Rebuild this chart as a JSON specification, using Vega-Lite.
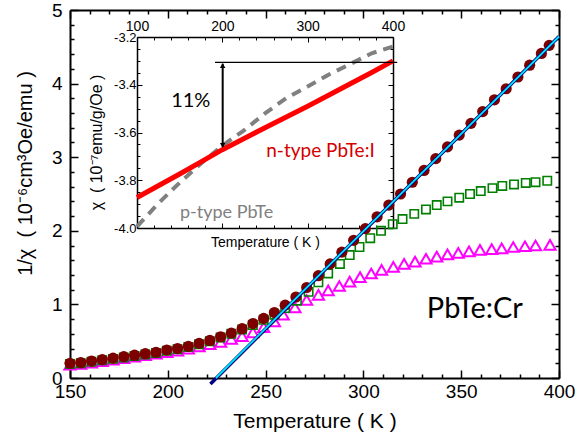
{
  "$schema": "https://vega.github.io/schema/vega-lite/v6.json",
  "width": 489,
  "height": 368,
  "autosize": "none",
  "padding": {"left": 70, "top": 10, "right": 21, "bottom": 60},
  "background": "white",
  "config": {
    "view": {"stroke": null},
    "axis": {"grid": false, "labelFont": "Liberation Sans", "titleFont": "Liberation Sans", "labelColor": "black", "titleColor": "black", "domainColor": "black", "tickColor": "black", "titleFontWeight": "normal", "labelOverlap": false, "labelFlush": false}
  },
  "datasets": {
    "circles": [
      {"T": 150, "v": 0.20}, {"T": 155.5, "v": 0.21}, {"T": 161, "v": 0.23}, {"T": 166.5, "v": 0.25}, {"T": 172, "v": 0.27},
      {"T": 177.5, "v": 0.29}, {"T": 183, "v": 0.31}, {"T": 188.5, "v": 0.33}, {"T": 194, "v": 0.35}, {"T": 199.5, "v": 0.38},
      {"T": 205, "v": 0.40}, {"T": 210.5, "v": 0.43}, {"T": 216, "v": 0.47}, {"T": 221.5, "v": 0.51}, {"T": 227, "v": 0.56},
      {"T": 232.5, "v": 0.61}, {"T": 238, "v": 0.67}, {"T": 243.5, "v": 0.74}, {"T": 249, "v": 0.81}, {"T": 254.5, "v": 0.89},
      {"T": 260, "v": 0.99}, {"T": 265.5, "v": 1.10}, {"T": 271, "v": 1.23}, {"T": 277, "v": 1.39}, {"T": 283, "v": 1.55},
      {"T": 289, "v": 1.71}, {"T": 295, "v": 1.87}, {"T": 301, "v": 2.03}, {"T": 307, "v": 2.19}, {"T": 313, "v": 2.35},
      {"T": 319, "v": 2.50}, {"T": 325, "v": 2.66}, {"T": 331, "v": 2.82}, {"T": 337, "v": 2.98}, {"T": 343, "v": 3.14},
      {"T": 349, "v": 3.30}, {"T": 355, "v": 3.46}, {"T": 361, "v": 3.62}, {"T": 367, "v": 3.78}, {"T": 373, "v": 3.93},
      {"T": 379, "v": 4.09}, {"T": 385, "v": 4.25}, {"T": 391, "v": 4.41}, {"T": 395, "v": 4.52}
    ],
    "squares": [
      {"T": 150, "v": 0.19}, {"T": 155.5, "v": 0.20}, {"T": 161, "v": 0.22}, {"T": 166.5, "v": 0.24}, {"T": 172, "v": 0.26},
      {"T": 177.5, "v": 0.28}, {"T": 183, "v": 0.30}, {"T": 188.5, "v": 0.32}, {"T": 194, "v": 0.34}, {"T": 199.5, "v": 0.37},
      {"T": 205, "v": 0.39}, {"T": 210.5, "v": 0.42}, {"T": 216, "v": 0.46}, {"T": 221.5, "v": 0.50}, {"T": 227, "v": 0.55},
      {"T": 232.5, "v": 0.60}, {"T": 238, "v": 0.66}, {"T": 243.5, "v": 0.72}, {"T": 249, "v": 0.79}, {"T": 254.5, "v": 0.86},
      {"T": 260, "v": 0.95}, {"T": 266, "v": 1.05}, {"T": 272, "v": 1.17}, {"T": 277, "v": 1.30}, {"T": 282, "v": 1.42},
      {"T": 288, "v": 1.55}, {"T": 293, "v": 1.67}, {"T": 298, "v": 1.78}, {"T": 303.5, "v": 1.90}, {"T": 309, "v": 2.00},
      {"T": 315, "v": 2.09}, {"T": 320, "v": 2.16}, {"T": 326, "v": 2.23}, {"T": 332, "v": 2.29}, {"T": 337.5, "v": 2.35},
      {"T": 343, "v": 2.40}, {"T": 349, "v": 2.45}, {"T": 354.5, "v": 2.50}, {"T": 360, "v": 2.54}, {"T": 366, "v": 2.58},
      {"T": 371, "v": 2.61}, {"T": 377, "v": 2.63}, {"T": 383, "v": 2.65}, {"T": 388, "v": 2.66}, {"T": 394, "v": 2.68}
    ],
    "triangles": [
      {"T": 150, "v": 0.18}, {"T": 155.5, "v": 0.19}, {"T": 161, "v": 0.21}, {"T": 166.5, "v": 0.23}, {"T": 172, "v": 0.25},
      {"T": 177.5, "v": 0.27}, {"T": 183, "v": 0.29}, {"T": 188.5, "v": 0.31}, {"T": 194, "v": 0.33}, {"T": 199.5, "v": 0.35},
      {"T": 205, "v": 0.37}, {"T": 210.5, "v": 0.40}, {"T": 216, "v": 0.43}, {"T": 221.5, "v": 0.46}, {"T": 227, "v": 0.49},
      {"T": 232.5, "v": 0.53}, {"T": 238, "v": 0.57}, {"T": 243.5, "v": 0.62}, {"T": 249, "v": 0.69}, {"T": 254.5, "v": 0.77},
      {"T": 259, "v": 0.86}, {"T": 265, "v": 0.96}, {"T": 271, "v": 1.06}, {"T": 277, "v": 1.13}, {"T": 282, "v": 1.19},
      {"T": 287.7, "v": 1.25}, {"T": 293, "v": 1.31}, {"T": 298.3, "v": 1.37}, {"T": 304, "v": 1.42}, {"T": 309.3, "v": 1.47},
      {"T": 315.3, "v": 1.51}, {"T": 320.8, "v": 1.55}, {"T": 326.4, "v": 1.58}, {"T": 332, "v": 1.62}, {"T": 337.5, "v": 1.65},
      {"T": 343, "v": 1.68}, {"T": 348.5, "v": 1.70}, {"T": 354, "v": 1.72}, {"T": 359.6, "v": 1.74}, {"T": 365.6, "v": 1.75},
      {"T": 370.7, "v": 1.76}, {"T": 376.6, "v": 1.78}, {"T": 382.6, "v": 1.79}, {"T": 388, "v": 1.80}, {"T": 395.4, "v": 1.81}
    ],
    "fitNavy": [{"T": 221.8, "v": -0.08}, {"T": 400, "v": 4.64}],
    "fitCyan": [{"T": 224.6, "v": 0}, {"T": 400, "v": 4.64}],
    "mainText": [{"T": 357, "v": 0.94, "label": "PbTe:Cr"}],
    "redLine": [
      {"T": 100, "v": -3.872}, {"T": 125, "v": -3.823}, {"T": 150, "v": -3.774}, {"T": 175, "v": -3.723}, {"T": 200, "v": -3.672},
      {"T": 225, "v": -3.626}, {"T": 250, "v": -3.580}, {"T": 275, "v": -3.535}, {"T": 300, "v": -3.490}, {"T": 325, "v": -3.443},
      {"T": 350, "v": -3.396}, {"T": 375, "v": -3.349}, {"T": 400, "v": -3.300}
    ],
    "grayLine": [
      {"T": 100, "v": -3.994}, {"T": 125, "v": -3.897}, {"T": 150, "v": -3.810}, {"T": 175, "v": -3.730}, {"T": 200, "v": -3.655},
      {"T": 225, "v": -3.592}, {"T": 250, "v": -3.520}, {"T": 275, "v": -3.456}, {"T": 300, "v": -3.407}, {"T": 325, "v": -3.357},
      {"T": 350, "v": -3.313}, {"T": 375, "v": -3.268}, {"T": 400, "v": -3.240}
    ],
    "hline": [{"T1": 191.4, "T2": 405, "v": -3.306}],
    "arrowShaft": [{"T": 200.4, "v1": -3.312, "v2": -3.660}],
    "arrowUp": [{"T": 200.4, "v": -3.320}],
    "arrowDown": [{"T": 200.4, "v": -3.654}],
    "insetText": [
      {"T": 163, "v": -3.467, "label": "11%", "kind": "pct"},
      {"T": 315, "v": -3.676, "label": "n-type PbTe:I", "kind": "n"},
      {"T": 205, "v": -3.937, "label": "p-type PbTe", "kind": "p"}
    ]
  },
  "layer": [
    {
      "layer": [
        {
          "data": {"name": "triangles"},
          "mark": {"type": "point", "shape": "triangle-up", "filled": false, "color": "#ff00ff", "strokeWidth": 2, "size": 125, "opacity": 1},
          "encoding": {
            "x": {"field": "T", "type": "quantitative", "scale": {"domain": [150, 400], "nice": false, "zero": false},
              "axis": {"orient": "bottom", "values": [150,160,170,180,190,200,210,220,230,240,250,260,270,280,290,300,310,320,330,340,350,360,370,380,390,400],
                "labelExpr": "datum.value % 50 === 0 ? datum.label : ''",
                "tickSize": {"condition": {"test": "datum.value % 50 === 0", "value": -8}, "value": -4},
                "tickWidth": 1.5, "domainWidth": 2, "labelFontSize": 19, "labelPadding": 12,
                "title": "Temperature  ( K )", "titleFontSize": 21, "titlePadding": 5}},
            "y": {"field": "v", "type": "quantitative", "scale": {"domain": [0, 5], "nice": false, "zero": false},
              "axis": {"orient": "left", "format": ".0f", "values": [0,0.2,0.4,0.6,0.8,1,1.2,1.4,1.6,1.8,2,2.2,2.4,2.6,2.8,3,3.2,3.4,3.6,3.8,4,4.2,4.4,4.6,4.8,5],
                "labelExpr": "datum.value % 1 === 0 ? datum.label : ''",
                "tickSize": {"condition": {"test": "datum.value % 1 === 0", "value": -8}, "value": -4},
                "tickWidth": 1.5, "domainWidth": 2, "labelFontSize": 19, "labelPadding": 16,
                "title": "1/χ\u00a0\u00a0( 10⁻⁶cm³Oe/emu )", "titleFontSize": 20, "titleX": -45, "titleY": 163, "titleAlign": "center", "titleBaseline": "middle", "titleAngle": -90}}
          }
        },
        {
          "data": {"name": "squares"},
          "mark": {"type": "point", "shape": "square", "filled": false, "color": "#008000", "strokeWidth": 1.6, "size": 70, "opacity": 1},
          "encoding": {
            "x": {"field": "T", "type": "quantitative", "axis": null},
            "y": {"field": "v", "type": "quantitative", "axis": null}
          }
        },
        {
          "data": {"name": "circles"},
          "mark": {"type": "point", "shape": "circle", "filled": true, "color": "#7d0000", "size": 125, "opacity": 1},
          "encoding": {
            "x": {"field": "T", "type": "quantitative", "axis": null},
            "y": {"field": "v", "type": "quantitative", "axis": null}
          }
        },
        {
          "data": {"name": "fitNavy"},
          "mark": {"type": "line", "color": "#000080", "strokeWidth": 3.5, "clip": false},
          "encoding": {
            "x": {"field": "T", "type": "quantitative", "axis": null},
            "y": {"field": "v", "type": "quantitative", "axis": null}
          }
        },
        {
          "data": {"name": "fitCyan"},
          "mark": {"type": "line", "color": "#00e8ff", "strokeWidth": 1.8, "clip": false},
          "encoding": {
            "x": {"field": "T", "type": "quantitative",
              "axis": {"orient": "top", "values": [150,160,170,180,190,200,210,220,230,240,250,260,270,280,290,300,310,320,330,340,350,360,370,380,390,400],
                "labels": false, "title": null,
                "tickSize": {"condition": {"test": "datum.value % 50 === 0", "value": -8}, "value": -4},
                "tickWidth": 1.5, "domainWidth": 2}},
            "y": {"field": "v", "type": "quantitative",
              "axis": {"orient": "right", "values": [0,0.2,0.4,0.6,0.8,1,1.2,1.4,1.6,1.8,2,2.2,2.4,2.6,2.8,3,3.2,3.4,3.6,3.8,4,4.2,4.4,4.6,4.8,5],
                "labels": false, "title": null,
                "tickSize": {"condition": {"test": "datum.value % 1 === 0", "value": -8}, "value": -4},
                "tickWidth": 1.5, "domainWidth": 2}}
          }
        },
        {
          "data": {"name": "mainText"},
          "mark": {"type": "text", "font": "Lato", "fontSize": 29, "color": "black", "align": "center", "baseline": "middle"},
          "encoding": {
            "x": {"field": "T", "type": "quantitative", "axis": null},
            "y": {"field": "v", "type": "quantitative", "axis": null},
            "text": {"field": "label"}
          }
        }
      ],
      "resolve": {"axis": {"x": "independent", "y": "independent"}}
    },
    {
      "layer": [
        {
          "data": {"name": "grayLine"},
          "mark": {"type": "line", "color": "#808080", "strokeWidth": 4, "strokeDash": [10, 7], "clip": false},
          "encoding": {
            "x": {"field": "T", "type": "quantitative", "scale": {"domain": [100, 400], "range": [67, 323], "nice": false, "zero": false},
              "axis": {"orient": "bottom", "offset": -150, "values": [100,120,140,160,180,200,220,240,260,280,300,320,340,360,380,400],
                "labels": false, "title": "Temperature ( K )", "titleFontSize": 14, "titlePadding": 7,
                "tickSize": {"condition": {"test": "datum.value % 100 === 0", "value": -5}, "value": -3},
                "tickWidth": 1, "domainWidth": 1.5}},
            "y": {"field": "v", "type": "quantitative", "scale": {"domain": [-4.0, -3.2], "range": [218, 27], "nice": false, "zero": false},
              "axis": {"orient": "right", "offset": -166, "values": [-4,-3.95,-3.9,-3.85,-3.8,-3.75,-3.7,-3.65,-3.6,-3.55,-3.5,-3.45,-3.4,-3.35,-3.3,-3.25,-3.2],
                "labels": false, "title": null,
                "tickSize": {"condition": {"test": "abs(datum.value*5 - round(datum.value*5)) < 0.001", "value": -5}, "value": -3},
                "tickWidth": 1, "domainWidth": 1.5}}
          }
        },
        {
          "data": {"name": "redLine"},
          "mark": {"type": "line", "color": "#ff0000", "strokeWidth": 5, "clip": false},
          "encoding": {
            "x": {"field": "T", "type": "quantitative",
              "axis": {"orient": "top", "offset": -27, "values": [100,120,140,160,180,200,220,240,260,280,300,320,340,360,380,400],
                "labelExpr": "datum.value % 100 === 0 ? datum.label : ''", "labelFontSize": 14, "labelPadding": 9, "title": null,
                "tickSize": {"condition": {"test": "datum.value % 100 === 0", "value": -5}, "value": -3},
                "tickWidth": 1, "domainWidth": 1.5}},
            "y": {"field": "v", "type": "quantitative",
              "axis": {"orient": "left", "offset": -67, "values": [-4,-3.95,-3.9,-3.85,-3.8,-3.75,-3.7,-3.65,-3.6,-3.55,-3.5,-3.45,-3.4,-3.35,-3.3,-3.25,-3.2],
                "labelExpr": "abs(datum.value*5 - round(datum.value*5)) < 0.001 ? replace(format(datum.value, '.1f'), '\u2212', '-') : ''",
                "labelFontSize": 13, "labelPadding": 6,
                "title": "χ\u00a0\u00a0( 10⁻⁷emu/g/Oe )", "titleFontSize": 16, "titleX": -41, "titleY": 132, "titleAlign": "center", "titleBaseline": "middle", "titleAngle": -90,
                "tickSize": {"condition": {"test": "abs(datum.value*5 - round(datum.value*5)) < 0.001", "value": -5}, "value": -3},
                "tickWidth": 1, "domainWidth": 1.5}}
          }
        },
        {
          "data": {"name": "hline"},
          "mark": {"type": "rule", "color": "black", "strokeWidth": 1.2, "clip": false},
          "encoding": {
            "x": {"field": "T1", "type": "quantitative", "axis": null},
            "x2": {"field": "T2"},
            "y": {"field": "v", "type": "quantitative", "axis": null}
          }
        },
        {
          "data": {"name": "arrowShaft"},
          "mark": {"type": "rule", "color": "black", "strokeWidth": 2},
          "encoding": {
            "x": {"field": "T", "type": "quantitative", "axis": null},
            "y": {"field": "v1", "type": "quantitative", "axis": null},
            "y2": {"field": "v2"}
          }
        },
        {
          "data": {"name": "arrowUp"},
          "mark": {"type": "point", "shape": "triangle-up", "filled": true, "color": "black", "size": 30, "opacity": 1},
          "encoding": {
            "x": {"field": "T", "type": "quantitative", "axis": null},
            "y": {"field": "v", "type": "quantitative", "axis": null}
          }
        },
        {
          "data": {"name": "arrowDown"},
          "mark": {"type": "point", "shape": "triangle-down", "filled": true, "color": "black", "size": 30, "opacity": 1},
          "encoding": {
            "x": {"field": "T", "type": "quantitative", "axis": null},
            "y": {"field": "v", "type": "quantitative", "axis": null}
          }
        },
        {
          "data": {"name": "insetText"},
          "mark": {"type": "text", "font": "Lato", "align": "center", "baseline": "middle"},
          "encoding": {
            "x": {"field": "T", "type": "quantitative", "axis": null},
            "y": {"field": "v", "type": "quantitative", "axis": null},
            "text": {"field": "label"},
            "color": {"field": "kind", "type": "nominal", "scale": {"domain": ["pct", "n", "p"], "range": ["#000000", "#d40000", "#808080"]}, "legend": null},
            "size": {"field": "kind", "type": "nominal", "scale": {"domain": ["pct", "n", "p"], "range": [20, 18, 18]}, "legend": null}
          }
        }
      ],
      "resolve": {"axis": {"x": "independent", "y": "independent"}}
    }
  ],
  "resolve": {"scale": {"x": "independent", "y": "independent"}}
}
